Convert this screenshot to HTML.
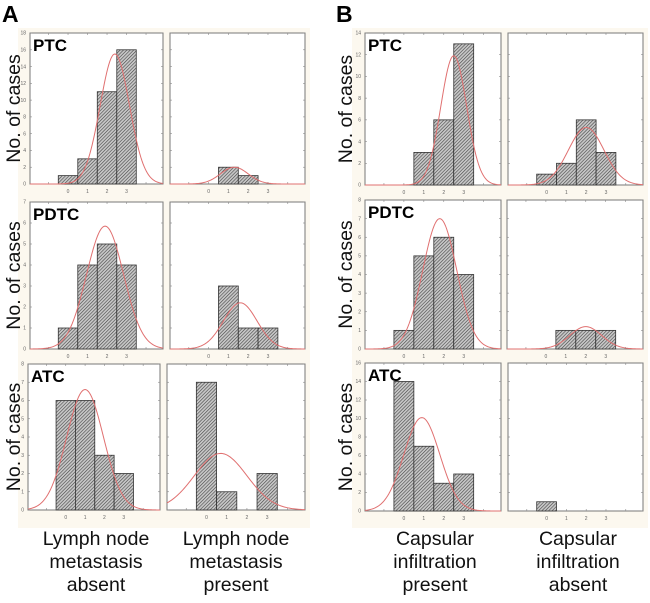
<!DOCTYPE html>
<html><head><meta charset="utf-8">
<style>
html,body{margin:0;padding:0;background:#fff;}
svg{display:block;font-family:"Liberation Sans",sans-serif;}
</style></head>
<body>
<svg id="fig" width="650" height="603" viewBox="0 0 650 603" xmlns="http://www.w3.org/2000/svg">
<defs>
<pattern id="hatch" patternUnits="userSpaceOnUse" width="2.4" height="2.4" patternTransform="rotate(45)">
<rect width="2.4" height="2.4" fill="#c8c8c8"/>
<line x1="0" y1="0" x2="0" y2="2.4" stroke="#444" stroke-width="1.2"/>
</pattern>
</defs>
<rect x="18" y="28" width="292" height="500" fill="#fcf8ef"/>
<rect x="352" y="28" width="296" height="500" fill="#fcf8ef"/>
<text x="2" y="22" font-size="23" font-weight="bold">A</text>
<text x="336" y="22" font-size="23" font-weight="bold">B</text>
<g id="plots"></g>
<g font-size="19.5" text-anchor="middle" fill="#111">
<text x="96" y="545"><tspan x="96">Lymph node</tspan><tspan x="96" dy="23">metastasis</tspan><tspan x="96" dy="23">absent</tspan></text>
<text x="236" y="545"><tspan x="236">Lymph node</tspan><tspan x="236" dy="23">metastasis</tspan><tspan x="236" dy="23">present</tspan></text>
<text x="435" y="545"><tspan x="435">Capsular</tspan><tspan x="435" dy="23">infiltration</tspan><tspan x="435" dy="23">present</tspan></text>
<text x="578" y="545"><tspan x="578">Capsular</tspan><tspan x="578" dy="23">infiltration</tspan><tspan x="578" dy="23">absent</tspan></text>
</g>
</svg>
<script>
// categories (score bins)
const categories = [0, 1, 2, 3];
// counts per panel
const aPtcAbsent = [1, 3, 11, 16];
const aPtcPresent = [0, 2, 1, 0];
const aPdtcAbsent = [1, 4, 5, 4];
const aPdtcPresent = [0, 3, 1, 1];
const aAtcAbsent = [6, 6, 3, 2];
const aAtcPresent = [7, 1, 0, 2];
const bPtcPresent = [0, 3, 6, 13];
const bPtcAbsent = [1, 2, 6, 3];
const bPdtcPresent = [1, 5, 6, 4];
const bPdtcAbsent = [0, 1, 1, 1];
const bAtcPresent = [14, 7, 3, 4];
const bAtcAbsent = [1, 0, 0, 0];
// fitted normal curves: [mean, sd, peak]
const curveAPtcAbsent = [2.4, 0.75, 15.5];
const curveAPtcPresent = [1.3, 0.7, 2.0];
const curveAPdtcAbsent = [1.9, 0.95, 5.85];
const curveAPdtcPresent = [1.6, 0.85, 2.2];
const curveAAtcAbsent = [1.0, 0.95, 6.6];
const curveAAtcPresent = [0.7, 1.3, 3.1];
const curveBPtcPresent = [2.5, 0.65, 11.9];
const curveBPtcAbsent = [2.0, 0.9, 5.3];
const curveBPdtcPresent = [1.8, 0.85, 7.0];
const curveBPdtcAbsent = [2.0, 0.8, 1.2];
const curveBAtcPresent = [0.9, 0.9, 10.1];
const curveBAtcAbsent = null;
// y-axis maxima and steps
const yMaxes = {aRow1: 18, aRow2: 7, aRow3: 8, bRow1: 14, bRow2: 8, bRow3: 16};
const ySteps = {aRow1: 2, aRow2: 1, aRow3: 1, bRow1: 2, bRow2: 1, bRow3: 2};

const NS = "http://www.w3.org/2000/svg";
const root = document.getElementById('plots');
function mk(tag, attrs, parent) {
  const e = document.createElementNS(NS, tag);
  for (const k in attrs) e.setAttribute(k, attrs[k]);
  (parent || root).appendChild(e);
  return e;
}
const XMIN = -1.95, XMAX = 4.87;

function panel(name, box, yMax, yStep, counts, curve, showY, rowLabel, ylabelX) {
  const g = mk('g', {});
  
  
  const xs = v => box.x0 + (v - XMIN) / (XMAX - XMIN) * (box.x1 - box.x0);
  const ys = v => box.y1 - v / yMax * (box.y1 - box.y0);
  const frame = mk('rect', {x: box.x0, y: box.y0, width: box.x1 - box.x0, height: box.y1 - box.y0, fill: '#fff', stroke: '#777', 'stroke-width': 1}, g);
  
  
  for (let v = 0; v <= yMax + 1e-9; v += yStep) {
    const y = ys(v);
    mk('line', {x1: box.x0, x2: box.x0 + 2, y1: y, y2: y, stroke: '#888', 'stroke-width': 0.6}, g);
    mk('line', {x1: box.x1 - 2, x2: box.x1, y1: y, y2: y, stroke: '#888', 'stroke-width': 0.6}, g);
    if (showY) {
      const t = mk('text', {x: box.x0 - 4, y: y + 1.7, 'font-size': 5, 'text-anchor': 'end', fill: '#666'}, g);
      t.textContent = v;
      
      
    }
  }
  for (let v = -1; v <= 4; v++) {
    const x = xs(v);
    mk('line', {x1: x, x2: x, y1: box.y1, y2: box.y1 - 2, stroke: '#888', 'stroke-width': 0.6}, g);
    mk('line', {x1: x, x2: x, y1: box.y0, y2: box.y0 + 2, stroke: '#888', 'stroke-width': 0.6}, g);
  }
  categories.forEach(c => {
    const t = mk('text', {x: xs(c), y: box.y1 + 9, 'font-size': 5, 'text-anchor': 'middle', fill: '#666'}, g);
    t.textContent = c;
    
    
  });
  counts.forEach((n, i) => {
    if (n <= 0) return;
    const c = categories[i];
    const r = mk('rect', {x: xs(c - 0.5), y: ys(n), width: xs(c + 0.5) - xs(c - 0.5), height: ys(0) - ys(n), fill: 'url(#hatch)', stroke: '#333', 'stroke-width': 0.8}, g);
    
    
  });
  if (curve) {
    let d = '';
    for (let k = 0; k <= 120; k++) {
      const v = XMIN + (XMAX - XMIN) * k / 120;
      const f = curve[2] * Math.exp(-0.5 * Math.pow((v - curve[0]) / curve[1], 2));
      d += (k ? 'L' : 'M') + xs(v).toFixed(2) + ',' + ys(f).toFixed(2);
    }
    const p = mk('path', {d: d, fill: 'none', stroke: '#e07070', 'stroke-width': 1}, g);
    
    
  }
  if (rowLabel) {
    const t = mk('text', {x: box.x0 + 3, y: box.y0 + 18, 'font-size': 17, 'font-weight': 'bold', fill: '#000'}, g);
    t.textContent = rowLabel;
    
    
    const cy = (box.y0 + box.y1) / 2;
    const yl = mk('text', {x: ylabelX, y: cy, 'font-size': 19.5, 'text-anchor': 'middle', fill: '#111', transform: 'rotate(-90 ' + ylabelX + ' ' + cy + ')'}, g);
    yl.textContent = 'No. of cases';
    
    
  }
}

panel('a-ptc-absent', {x0: 30, x1: 163, y0: 33, y1: 184}, yMaxes.aRow1, ySteps.aRow1, aPtcAbsent, curveAPtcAbsent, true, 'PTC', 20);
panel('a-ptc-present', {x0: 170, x1: 305, y0: 33, y1: 184}, yMaxes.aRow1, ySteps.aRow1, aPtcPresent, curveAPtcPresent, false);
panel('a-pdtc-absent', {x0: 30, x1: 163, y0: 202, y1: 349}, yMaxes.aRow2, ySteps.aRow2, aPdtcAbsent, curveAPdtcAbsent, true, 'PDTC', 20);
panel('a-pdtc-present', {x0: 170, x1: 305, y0: 202, y1: 349}, yMaxes.aRow2, ySteps.aRow2, aPdtcPresent, curveAPdtcPresent, false);
panel('a-atc-absent', {x0: 28, x1: 160, y0: 364, y1: 510}, yMaxes.aRow3, ySteps.aRow3, aAtcAbsent, curveAAtcAbsent, true, 'ATC', 20);
panel('a-atc-present', {x0: 167, x1: 305, y0: 364, y1: 510}, yMaxes.aRow3, ySteps.aRow3, aAtcPresent, curveAAtcPresent, false);
panel('b-ptc-present', {x0: 365, x1: 501, y0: 33, y1: 185}, yMaxes.bRow1, ySteps.bRow1, bPtcPresent, curveBPtcPresent, true, 'PTC', 352);
panel('b-ptc-absent', {x0: 508, x1: 643, y0: 33, y1: 185}, yMaxes.bRow1, ySteps.bRow1, bPtcAbsent, curveBPtcAbsent, false);
panel('b-pdtc-present', {x0: 365, x1: 501, y0: 200, y1: 349}, yMaxes.bRow2, ySteps.bRow2, bPdtcPresent, curveBPdtcPresent, true, 'PDTC', 352);
panel('b-pdtc-absent', {x0: 507, x1: 643, y0: 200, y1: 349}, yMaxes.bRow2, ySteps.bRow2, bPdtcAbsent, curveBPdtcAbsent, false);
panel('b-atc-present', {x0: 365, x1: 501, y0: 363, y1: 511}, yMaxes.bRow3, ySteps.bRow3, bAtcPresent, curveBAtcPresent, true, 'ATC', 352);
panel('b-atc-absent', {x0: 508, x1: 643, y0: 363, y1: 511}, yMaxes.bRow3, ySteps.bRow3, bAtcAbsent, curveBAtcAbsent, false);
</script>
</body></html>
